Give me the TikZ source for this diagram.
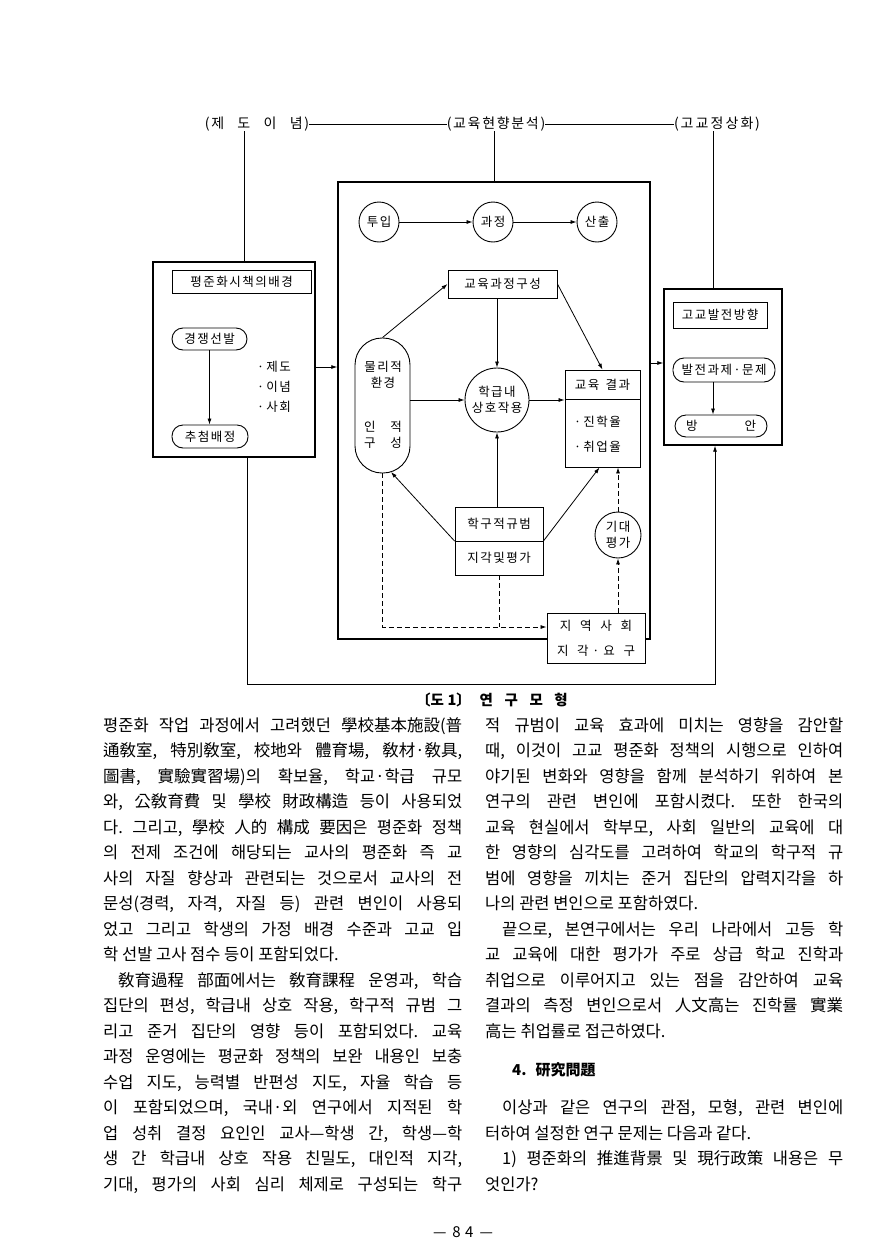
\documentclass[tikz,border=0pt]{standalone}
\usepackage{fontspec}
\setmainfont{Noto Sans CJK KR}
\newfontfamily\dg[LetterSpace=12]{Noto Sans CJK KR}
\usetikzlibrary{arrows.meta}
\frenchspacing
\newcommand\jl[1]{\makebox[359pt][s]{#1}}
\newcommand\jr[1]{\makebox[358pt][s]{#1}}
\newcommand\jli[1]{\makebox[344pt][s]{#1}}
\newcommand\jri[1]{\makebox[341pt][s]{#1}}
\tikzset{
 frame/.style={draw, line width=1.4pt, inner sep=0pt},
 ibox/.style={draw, line width=0.9pt, inner sep=0pt, font=\dg\fontsize{12.5}{16}\selectfont, align=center},
 pill/.style={ibox, rounded corners=11pt},
 circ/.style={draw, circle, line width=0.9pt, inner sep=0pt, font=\dg\fontsize{12.5}{16}\selectfont, align=center},
 lbl/.style={inner sep=0pt, font=\dg\fontsize{12.5}{16}\selectfont, align=center},
 toplbl/.style={inner sep=0pt, font=\dg\fontsize{14}{16}\selectfont},
 conn/.style={line width=0.8pt},
 arr/.style={conn, -{Latex[length=6pt,width=4pt]}},
 darr/.style={arr, dash pattern=on 5pt off 3pt},
 dline/.style={conn, dash pattern=on 5pt off 3pt},
 bl/.style={anchor=base west, inner sep=0pt, font=\fontsize{16.5}{18}\selectfont},
}
\begin{document}
\begin{tikzpicture}[x=1pt,y=-1pt]
\path[use as bounding box, fill=white] (0,0) rectangle (869,1258);

% top labels
\node[toplbl] (ljedo) at (257,124) {(제\hspace{0.95em}도\hspace{0.95em}이\hspace{0.95em}념)};
\node[toplbl] (lhyun) at (496,124) {(교육현향분석)};
\node[toplbl] (lgogo) at (717,124) {(고\hspace{0.15em}교\hspace{0.15em}정\hspace{0.15em}상\hspace{0.15em}화)};

% left frame
\node[frame, minimum width=162pt, minimum height=195pt] (leftbox) at (234,359.5) {};
\node[ibox, minimum width=139pt, minimum height=23pt] (ltitle) at (241.5,281.5) {평준화시책의배경};
\node[pill, minimum width=75pt, minimum height=22pt] (lp1) at (209.5,339) {경쟁선발};
\node[pill, minimum width=76pt, minimum height=23pt] (lp2) at (210,436.5) {추첨배정};
\node[lbl, anchor=west] (lb1) at (257,367) {·\,제도};
\node[lbl, anchor=west] (lb2) at (257,387) {·\,이념};
\node[lbl, anchor=west] (lb3) at (257,407) {·\,사회};

% center frame
\node[frame, minimum width=312pt, minimum height=457pt] (cbox) at (494,410.5) {};
\node[circ, minimum size=40pt] (cin) at (379,222) {투입};
\node[circ, minimum size=40pt] (cpr) at (493,222) {과정};
\node[circ, minimum size=40pt] (cout) at (597,222) {산출};
\node[ibox, minimum width=109pt, minimum height=28pt] (ccur) at (502.5,284) {교육과정구성};
\node[draw, line width=0.9pt, rounded corners=27pt, minimum width=55pt, minimum height=135pt, inner sep=0pt] (caps) at (382.5,405.5) {};
\node[lbl] (capt1) at (383,375) {물리적\\환경};
\node[lbl] (capt2) at (383,435) {인\hspace{1.2em}적\\구\hspace{1.2em}성};
\node[circ, minimum size=64pt] (cint) at (497,400) {학급내\\상호작용};
\node[draw, line width=0.9pt, minimum width=75pt, minimum height=97pt, inner sep=0pt] (cres) at (602.5,418.5) {};
\draw[conn] (cres.west |- 0,399) -- (cres.east |- 0,399);
\node[lbl] (crt) at (602.5,385) {교육\hspace{0.5em}결과};
\node[lbl, anchor=west] (crb1) at (574,422) {·\,진학율};
\node[lbl, anchor=west] (crb2) at (574,447) {·\,취업율};
\node[draw, line width=0.9pt, minimum width=88pt, minimum height=68pt, inner sep=0pt] (cnorm) at (499,541) {};
\draw[conn] (cnorm.west) -- (cnorm.east);
\node[lbl] (cn1) at (499,524) {학구적규범};
\node[lbl] (cn2) at (499,558) {지각및평가};
\node[circ, minimum size=46pt] (cexp) at (618,535) {기대\\평가};
\node[draw, fill=white, line width=0.9pt, minimum width=98pt, minimum height=50pt, inner sep=0pt] (ccom) at (596,638) {};
\node[lbl] (cc1) at (596,626) {지\hspace{0.7em}역\hspace{0.7em}사\hspace{0.7em}회};
\node[lbl] (cc2) at (596,651) {지\hspace{0.7em}각\hspace{0.3em}·\hspace{0.3em}요\hspace{0.7em}구};

% right frame
\node[frame, minimum width=118pt, minimum height=156pt] (rbox) at (723,367) {};
\node[ibox, minimum width=94pt, minimum height=26pt] (rtitle) at (720,315) {고교발전방향};
\node[pill, minimum width=102pt, minimum height=24pt] (rp1) at (724,370) {발전과제·문제};
\node[pill, minimum width=92pt, minimum height=22pt] (rp2) at (721,426) {\makebox[70pt]{방\hfill 안}};

% helper coordinates
\coordinate (xa) at (244,0);
\coordinate (xb) at (247,0);
\coordinate (xc) at (713,0);
\coordinate (xd) at (715,0);
\coordinate (ya) at (0,367);
\coordinate (yr) at (0,363);
\coordinate (yb) at (0,684);
\coordinate (yd) at (0,627);
\coordinate (capbr) at (391,472);

% connectors
\draw[conn] (ljedo.east) -- (lhyun.west);
\draw[conn] (lhyun.east) -- (lgogo.west);
\draw[conn] (ljedo.south -| xa) -- (leftbox.north -| xa);
\draw[conn] (lhyun.south -| cbox.north) -- (cbox.north);
\draw[conn] (rbox.north -| xc) -- (lgogo.south -| xc);
\draw[arr] (leftbox.east |- ya) -- (cbox.west |- ya);
\draw[arr] (cbox.east |- yr) -- (rbox.west |- yr);
\draw[arr] (leftbox.south -| xb) -- (xb |- yb) -- (xd |- yb) -- (rbox.south -| xd);
\draw[arr] (lp1.south) -- (lp1.south |- lp2.north);
\draw[arr] (cin) -- (cpr);
\draw[arr] (cpr) -- (cout);
\draw[arr] (ccur.south -| cint.north) -- (cint.north);
\draw[arr] (caps.north) -- (ccur.west);
\draw[arr] (ccur.east) -- (cres.north);
\draw[arr] (caps.east |- cint.west) -- (cint.west);
\draw[arr] (cint.east) -- (cint.east -| cres.west);
\draw[arr] (cnorm.north -| cint.south) -- (cint.south);
\draw[arr] (cnorm.west) -- (capbr);
\draw[arr] (cnorm.east) -- ([xshift=-3pt]cres.south);
\draw[darr] (cexp.north) -- (cexp.north |- cres.south);
\draw[darr] (ccom.north -| cexp.south) -- (cexp.south);
\draw[darr] (caps.south) -- (caps.south |- yd) -- (ccom.west |- yd);
\draw[dline] (cnorm.south) -- (cnorm.south |- yd);
\draw[arr] (rp1.south -| xc) -- (rp2.north -| xc);

% caption
\node[inner sep=0pt, font=\bfseries\fontsize{14.5}{16}\selectfont] (figcap) at (492,700) {〔도\hspace{0.25em}1〕\hspace{0.6em}연\hspace{0.8em}구\hspace{0.8em}모\hspace{0.8em}형};

% left column
\node[bl] (l1) at (103,731) {\jl{평준화 작업 과정에서 고려했던 學校基本施設(普}};
\node[bl] (l2) at (103,756.5) {\jl{通敎室, 特別敎室, 校地와 體育場, 敎材·敎具,}};
\node[bl] (l3) at (103,782) {\jl{圖書, 實驗實習場)의 확보율, 학교·학급 규모}};
\node[bl] (l4) at (103,807.5) {\jl{와, 公敎育費 및 學校 財政構造 등이 사용되었}};
\node[bl] (l5) at (103,833) {\jl{다. 그리고, 學校 人的 構成 要因은 평준화 정책}};
\node[bl] (l6) at (103,858.5) {\jl{의 전제 조건에 해당되는 교사의 평준화 즉 교}};
\node[bl] (l7) at (103,884) {\jl{사의 자질 향상과 관련되는 것으로서 교사의 전}};
\node[bl] (l8) at (103,909.5) {\jl{문성(경력, 자격, 자질 등) 관련 변인이 사용되}};
\node[bl] (l9) at (103,935) {\jl{었고 그리고 학생의 가정 배경 수준과 고교 입}};
\node[bl] (l10) at (103,960.5) {학 선발 고사 점수 등이 포함되었다.};
\node[bl] (l11) at (118,986) {\jli{敎育過程 部面에서는 敎育課程 운영과, 학습}};
\node[bl] (l12) at (103,1011.5) {\jl{집단의 편성, 학급내 상호 작용, 학구적 규범 그}};
\node[bl] (l13) at (103,1037) {\jl{리고 준거 집단의 영향 등이 포함되었다. 교육}};
\node[bl] (l14) at (103,1062.5) {\jl{과정 운영에는 평균화 정책의 보완 내용인 보충}};
\node[bl] (l15) at (103,1088) {\jl{수업 지도, 능력별 반편성 지도, 자율 학습 등}};
\node[bl] (l16) at (103,1113.5) {\jl{이 포함되었으며, 국내·외 연구에서 지적된 학}};
\node[bl] (l17) at (103,1139) {\jl{업 성취 결정 요인인 교사—학생 간, 학생—학}};
\node[bl] (l18) at (103,1164.5) {\jl{생 간 학급내 상호 작용 친밀도, 대인적 지각,}};
\node[bl] (l19) at (103,1190) {\jl{기대, 평가의 사회 심리 체제로 구성되는 학구}};

% right column
\node[bl] (r1) at (485,731) {\jr{적 규범이 교육 효과에 미치는 영향을 감안할}};
\node[bl] (r2) at (485,756.5) {\jr{때, 이것이 고교 평준화 정책의 시행으로 인하여}};
\node[bl] (r3) at (485,782) {\jr{야기된 변화와 영향을 함께 분석하기 위하여 본}};
\node[bl] (r4) at (485,807.5) {\jr{연구의 관련 변인에 포함시켰다. 또한 한국의}};
\node[bl] (r5) at (485,833) {\jr{교육 현실에서 학부모, 사회 일반의 교육에 대}};
\node[bl] (r6) at (485,858.5) {\jr{한 영향의 심각도를 고려하여 학교의 학구적 규}};
\node[bl] (r7) at (485,884) {\jr{범에 영향을 끼치는 준거 집단의 압력지각을 하}};
\node[bl] (r8) at (485,909.5) {나의 관련 변인으로 포함하였다.};
\node[bl] (r9) at (502,935) {\jri{끝으로, 본연구에서는 우리 나라에서 고등 학}};
\node[bl] (r10) at (485,960.5) {\jr{교 교육에 대한 평가가 주로 상급 학교 진학과}};
\node[bl] (r11) at (485,986) {\jr{취업으로 이루어지고 있는 점을 감안하여 교육}};
\node[bl] (r12) at (485,1011.5) {\jr{결과의 측정 변인으로서 人文高는 진학률 實業}};
\node[bl] (r13) at (485,1037) {高는 취업률로 접근하였다.};
\node[bl, font=\bfseries\fontsize{15}{18}\selectfont] (head) at (512,1075) {4.\hspace{0.6em}研究問題};
\node[bl] (r16) at (502,1113.5) {\jri{이상과 같은 연구의 관점, 모형, 관련 변인에}};
\node[bl] (r17) at (485,1139) {터하여 설정한 연구 문제는 다음과 같다.};
\node[bl] (r18) at (502,1164.5) {\jri{1) 평준화의 推進背景 및 現行政策 내용은 무}};
\node[bl] (r19) at (485,1190) {엇인가?};

% page number
\node[inner sep=0pt, font=\fontsize{15}{18}\selectfont] (pno) at (463,1232) {—\hspace{0.4em}8\hspace{0.3em}4\hspace{0.4em}—};
\end{tikzpicture}
\end{document}
